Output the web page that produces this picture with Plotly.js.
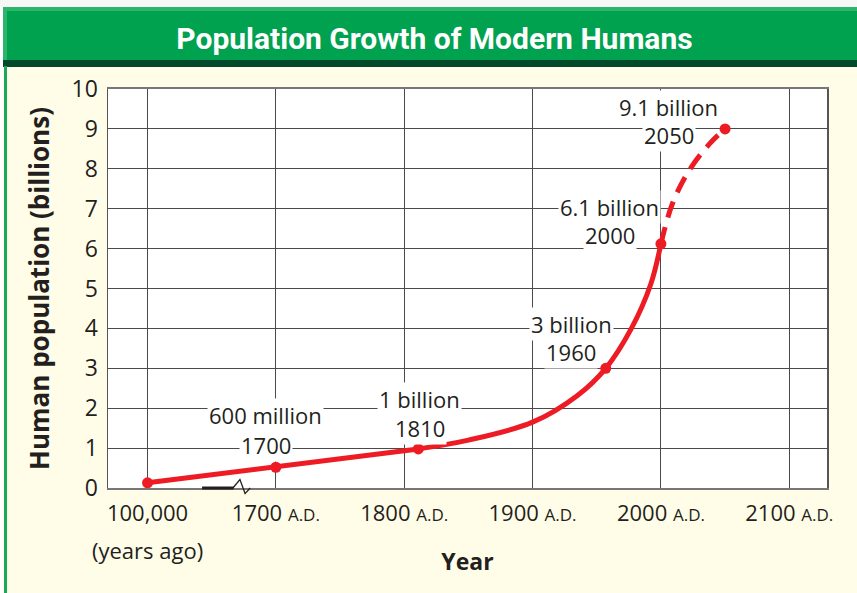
<!DOCTYPE html>
<html>
<head>
<meta charset="utf-8">
<script src="https://cdn.plot.ly/plotly-3.0.1.min.js"></script>
<style>
  html, body { margin: 0; padding: 0; background: #ffffff; }
  #wrap { position: relative; width: 857px; height: 593px; overflow: hidden; background: #FFFDE8; }
  #topwhite { position: absolute; left: 0; top: 0; width: 857px; height: 7px; background: #f7f7f5; }
  #bar { position: absolute; left: 3px; top: 7px; width: 854px; height: 54px; background: #00A14F; border-top: 4px solid #2DB56C; border-left: 4px solid #2DB56C; box-sizing: border-box; }
  #band { position: absolute; left: 3px; top: 60px; width: 854px; height: 7px; background: #004A2B; }
  #leftline { position: absolute; left: 4px; top: 66px; width: 3px; height: 527px; background: #19A85A; }
  #leftwhite { position: absolute; left: 0; top: 7px; width: 3px; height: 586px; background: #ffffff; }
  #chart { position: absolute; left: 0; top: 0; width: 857px; height: 593px; }
</style>
</head>
<body>
<div id="wrap">
  <div id="topwhite"></div>
  <div id="leftwhite"></div>
  <div id="bar"></div>
  <div id="band"></div>
  <div id="leftline"></div>
  <div id="chart"></div>
</div>
<script>
// Axis: the first slot (position 1600) stands for "100,000 years ago" (broken axis)
const tickPositions = [1600, 1700, 1800, 1900, 2000, 2100];
const tickLabels = [
  "100,000",
  "1700 <span style=\"font-size:17px\">A.D.</span>",
  "1800 <span style=\"font-size:17px\">A.D.</span>",
  "1900 <span style=\"font-size:17px\">A.D.</span>",
  "2000 <span style=\"font-size:17px\">A.D.</span>",
  "2100 <span style=\"font-size:17px\">A.D.</span>"
];
const firstTickNote = "(years ago)";

// Labelled data points (billions)
const keyYears = [1600, 1700, 1811, 1957, 2000, 2050];
const keyPop   = [0.13, 0.52, 0.98, 3.0, 6.12, 9.0];
const keyLabels = ["", "600 million", "1 billion", "3 billion", "6.1 billion", "9.1 billion"];
const keyYearLabels = ["", "1700", "1810", "1960", "2000", "2050"];

// Early, nearly straight part
const earlyYears = [1600, 1700, 1811];
const earlyPop   = [0.13, 0.52, 0.98];

// Measured curve (solid)
const curveYears = [1811, 1850, 1900, 1935, 1957, 1977, 1992, 2000];
const curvePop   = [0.98, 1.20, 1.65, 2.32, 3.00, 4.00, 5.10, 6.12];

// Projection (dashed)
const projYears = [2000, 2009, 2022, 2038, 2050];
const projPop   = [6.12, 7.13, 7.96, 8.63, 9.0];

const RED = "#ED1C24";
const FONT = "Open Sans, Noto Sans, sans-serif";
const INK = "#231F20";

const traces = [
  { x: earlyYears, y: earlyPop, mode: "lines", line: { color: RED, width: 5 }, hoverinfo: "skip" },
  { x: curveYears, y: curvePop, mode: "lines", line: { color: RED, width: 5, shape: "spline", smoothing: 1.0 }, hoverinfo: "skip" },
  { x: projYears, y: projPop, mode: "lines", line: { color: RED, width: 5, dash: "17px,10px", shape: "spline", smoothing: 1.0 }, hoverinfo: "skip" },
  { x: keyYears, y: keyPop, mode: "markers", marker: { color: RED, size: 11 }, hoverinfo: "skip" }
];

// label positions (data coords) for value line and year line
const labelPos = [
  null,
  { x: 1692, yv: 1.82, yy: 1.07 },
  { x: 1812, yv: 2.22, yy: 1.50 },
  { x: 1930, yv: 4.12, yy: 3.41 },
  { x: 1960, yv: 7.04, yy: 6.33 },
  { x: 2006, yv: 9.55, yy: 8.84 }
];

const annotations = [];
for (let i = 1; i < keyLabels.length; i++) {
  const p = labelPos[i];
  [[keyLabels[i], p.yv], [keyYearLabels[i], p.yy]].forEach(function (t) {
    annotations.push({
      x: p.x, y: t[1], xref: "x", yref: "y", text: t[0], showarrow: false,
      font: { family: FONT, size: 22, color: INK },
      bgcolor: "#ffffff", borderpad: 1, xanchor: "center", yanchor: "middle"
    });
  });
}
annotations.push({
  x: tickPositions[0], y: -62 / 399, xref: "x", yref: "paper", text: firstTickNote, showarrow: false,
  font: { family: FONT, size: 22, color: INK }, xanchor: "center", yanchor: "middle"
});

const shapes = [
  // axis-break mark
  { type: "line", xref: "x", yref: "paper", x0: 1642.5, x1: 1667, y0: 0, y1: 0, line: { color: INK, width: 3 }, layer: "above" },
  { type: "path", xref: "x", yref: "paper", path: "M 1666.5 0 L 1672 0.021 L 1676 -0.014 L 1680 0", line: { color: INK, width: 1.3 }, layer: "above" }
];

const layout = {
  width: 857, height: 593,
  margin: { l: 108, r: 30, t: 89, b: 105 },
  paper_bgcolor: "rgba(0,0,0,0)",
  plot_bgcolor: "#ffffff",
  showlegend: false,
  title: {
    text: "<b>Population Growth of Modern Humans</b>",
    font: { family: "Roboto, sans-serif", size: 30, color: "#ffffff" },
    x: 0.507, xanchor: "center", xref: "container",
    y: 1 - 38 / 593, yanchor: "middle", yref: "container"
  },
  xaxis: {
    range: [1569.2, 2129.4],
    tickvals: tickPositions, ticktext: tickLabels,
    tickfont: { family: FONT, size: 22, color: INK },
    ticklabelstandoff: 5,
    showgrid: true, gridcolor: "#4a4a4a", gridwidth: 1,
    showline: true, linecolor: "#777777", linewidth: 2, mirror: true,
    zeroline: false, ticks: "", ticklen: 0, tickangle: 0,
    title: { text: "<b>Year</b>", font: { family: FONT, size: 23, color: INK }, standoff: 27 },
    fixedrange: true
  },
  yaxis: {
    range: [0, 10], dtick: 1,
    tickfont: { family: FONT, size: 23, color: INK },
    ticklabelstandoff: 4,
    showgrid: true, gridcolor: "#4a4a4a", gridwidth: 1,
    showline: true, linecolor: "#555555", linewidth: 1.5, mirror: true,
    zeroline: false, ticks: "", ticklen: 0,
    title: { text: "<b>Human population (billions)</b>", font: { family: FONT, size: 26, color: INK }, standoff: 14 },
    fixedrange: true
  },
  annotations: annotations,
  shapes: shapes
};

Plotly.newPlot("chart", traces, layout, { staticPlot: true, displayModeBar: false });
</script>
</body>
</html>
